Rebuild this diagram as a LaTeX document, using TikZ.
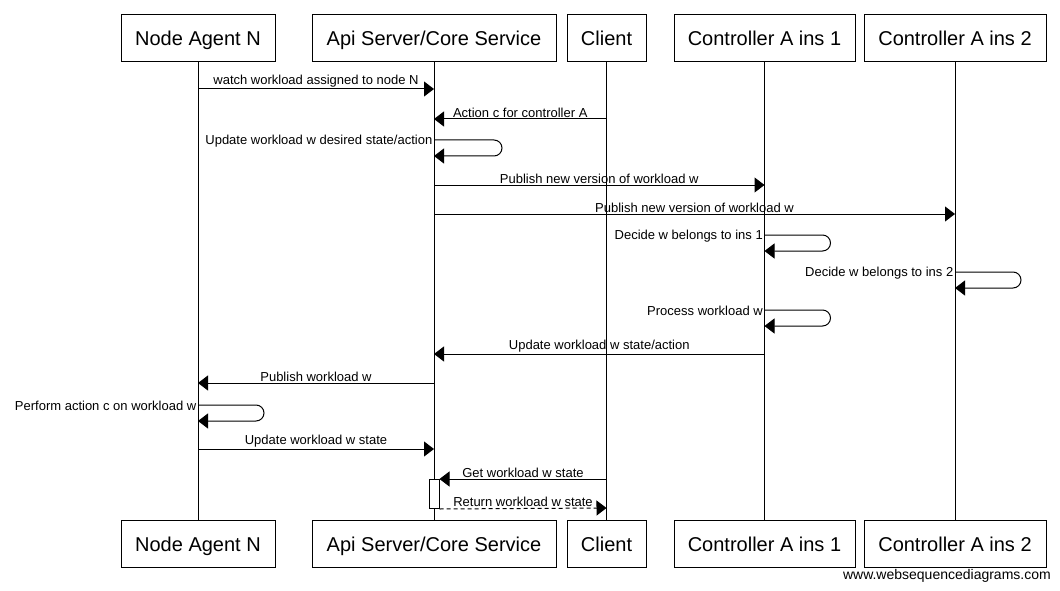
\documentclass[tikz,border=0pt]{standalone}
\usepackage{fontspec}
\setmainfont{Liberation Sans}
\usetikzlibrary{arrows.meta}

\begin{document}
\begin{tikzpicture}[x=1pt,y=-1pt,
    actor/.style={draw, fill=white, minimum height=47pt, font=\fontsize{20}{24}\selectfont, text height=18pt, text depth=3pt, line width=1pt, inner sep=0pt},
    msg/.style={line width=1pt, -{Triangle[length=10pt,width=15pt]}},
    reply/.style={msg, dash pattern=on 4pt off 3pt},
    lbl/.style={above, font=\fontsize{13}{15}\selectfont, inner sep=0pt, yshift=1pt},
    selflbl/.style={left, font=\fontsize{13}{15}\selectfont, inner sep=1.5pt, yshift=-1pt}]
    \useasboundingbox (0,0) rectangle (1060,591);
    \node [actor, minimum width=154pt] (agent)  at (198,38.5) {Node Agent N};
    \node [actor, minimum width=244pt] (api)    at (434,38.5) {Api Server/Core Service};
    \node [actor, minimum width=79pt]  (client) at (606.5,38.5) {Client};
    \node [actor, minimum width=181pt] (ctrla)  at (764.5,38.5) {Controller A ins 1};
    \node [actor, minimum width=182pt] (ctrlb)  at (955,38.5) {Controller A ins 2};
    \node [actor, minimum width=154pt] (agentb)  at (198,544) {Node Agent N};
    \node [actor, minimum width=244pt] (apib)    at (434,544) {Api Server/Core Service};
    \node [actor, minimum width=79pt]  (clientb) at (606.5,544) {Client};
    \node [actor, minimum width=181pt] (ctrlab)  at (764.5,544) {Controller A ins 1};
    \node [actor, minimum width=182pt] (ctrlbb)  at (955,544) {Controller A ins 2};
    \draw [line width=1pt] (agent) -- (agentb);
    \draw [line width=1pt] (api) -- (apib);
    \draw [line width=1pt] (client) -- (clientb);
    \draw [line width=1pt] (ctrla) -- (ctrlab);
    \draw [line width=1pt] (ctrlb) -- (ctrlbb);
    \coordinate (watchfrom) at (198,89);
    \coordinate (watchto) at (434,89);
    \coordinate (actionfrom) at (606.5,119);
    \coordinate (actionto) at (434,119);
    \coordinate (desired) at (434,140);
    \coordinate (desiredback) at (434,156);
    \coordinate (pubafrom) at (434,185);
    \coordinate (pubato) at (764.5,185);
    \coordinate (pubbfrom) at (434,214);
    \coordinate (pubbto) at (955,214);
    \coordinate (decidea) at (764.5,235);
    \coordinate (decideaback) at (764.5,251);
    \coordinate (decideb) at (955,272);
    \coordinate (decidebback) at (955,288);
    \coordinate (process) at (764.5,310);
    \coordinate (processback) at (764.5,326);
    \coordinate (updfrom) at (764.5,354);
    \coordinate (updto) at (434,354);
    \coordinate (pubwfrom) at (434,383);
    \coordinate (pubwto) at (198,383);
    \coordinate (perform) at (198,405);
    \coordinate (performback) at (198,421);
    \coordinate (statefrom) at (198,449);
    \coordinate (stateto) at (434,449);
    \coordinate (getfrom) at (606.5,479);
    \coordinate (retto) at (606.5,508);
    \draw [msg] (watchfrom) -- node [lbl] {watch workload assigned to node N} (watchto);
    \draw [msg] (actionfrom) -- node [lbl] {Action c for controller A} (actionto);
    \draw [msg, rounded corners=8pt] (desired) -- ++(68,0) -- ++(0,16) -- (desiredback);
    \node [selflbl] at (desired) {Update workload w desired state/action};
    \draw [msg] (pubafrom) -- node [lbl] {Publish new version of workload w} (pubato);
    \draw [msg] (pubbfrom) -- node [lbl] {Publish new version of workload w} (pubbto);
    \draw [msg, rounded corners=8pt] (decidea) -- ++(66,0) -- ++(0,16) -- (decideaback);
    \node [selflbl] at (decidea) {Decide w belongs to ins 1};
    \draw [msg, rounded corners=8pt] (decideb) -- ++(66,0) -- ++(0,16) -- (decidebback);
    \node [selflbl] at (decideb) {Decide w belongs to ins 2};
    \draw [msg, rounded corners=8pt] (process) -- ++(66,0) -- ++(0,16) -- (processback);
    \node [selflbl] at (process) {Process workload w};
    \draw [msg] (updfrom) -- node [lbl] {Update workload w state/action} (updto);
    \draw [msg] (pubwfrom) -- node [lbl] {Publish workload w} (pubwto);
    \draw [msg, rounded corners=8pt] (perform) -- ++(66,0) -- ++(0,16) -- (performback);
    \node [selflbl] at (perform) {Perform action c on workload w};
    \draw [msg] (statefrom) -- node [lbl] {Update workload w state} (stateto);
    \node [draw, fill=white, line width=1pt, minimum width=10pt, minimum height=29pt, inner sep=0pt, anchor=north] (busy) at (434,479) {};
    \draw [msg] (getfrom) -- node [lbl] {Get workload w state} (busy.north east);
    \draw [reply] (busy.south east) -- node [lbl] {Return workload w state} (retto);
    \node [anchor=east, font=\fontsize{14}{16}\selectfont, inner sep=0pt] (site) at (1051,576) {www.websequencediagrams.com};
\end{tikzpicture}
\end{document}
